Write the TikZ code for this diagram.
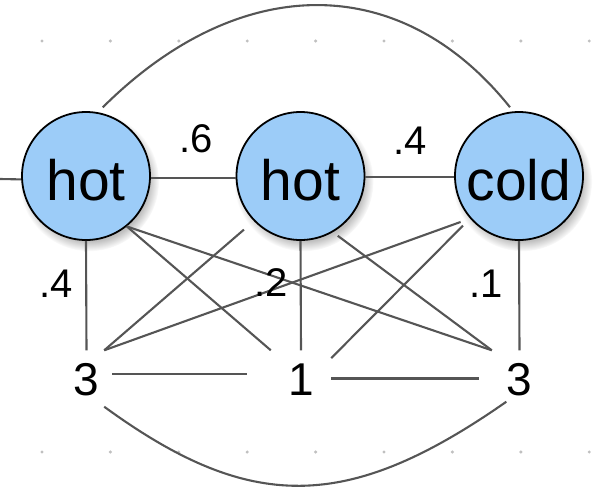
\documentclass[tikz,border=0pt]{standalone}
\usepackage{fontspec}
\setmainfont{Liberation Sans}
\usetikzlibrary{shadows,fadings}
\definecolor{statefill}{RGB}{156,204,248}
\definecolor{linkgray}{RGB}{85,85,85}
\definecolor{dotgray}{RGB}{192,192,192}
\begin{document}
\begin{tikzpicture}[x=1pt,y=-1pt,
  state/.style={circle, draw=black, line width=1.8pt, fill=statefill,
    minimum size=128pt, inner sep=0pt,
    font=\fontsize{57}{60}\selectfont, text height=48pt, text depth=0pt,
    circular drop shadow={shadow xshift=3pt, shadow yshift=-5pt,
      shadow scale=1.09, opacity=0.5}},
  obs/.style={rectangle, inner sep=0pt, minimum height=56pt,
    font=\fontsize{46}{50}\selectfont, text height=33pt, text depth=0pt},
  prob/.style={inner sep=0pt, font=\fontsize{40}{44}\selectfont},
  link/.style={draw=linkgray, line width=2.1pt},
  gdot/.style={fill=dotgray, draw=none}]

\useasboundingbox (0,0) rectangle (596,487);

% background grid dots
\foreach \i in {0,...,8} {
  \fill[gdot] ({42+68.4*\i},41) circle[radius=1.7pt];
  \fill[gdot] ({42+68.4*\i},452) circle[radius=1.7pt];
}

% hidden states
\node[state] (h1) at (86,176) {hot};
\node[state] (h2) at (300.5,176) {hot};
\node[state] (c)  at (519,176) {cold};

% observations
\node[obs, minimum width=35pt] (n1) at (86.5,378.5) {3};
\node[obs, minimum width=60pt] (n2) at (301,378.5) {1};
\node[obs, minimum width=55pt] (n3) at (519.5,378.5) {3};

% incoming edge
\coordinate (entry) at (0,179);
\draw[link] (entry) -- (h1.183);

% chain edges
\draw[link] (h1.-2) -- (h2.182);
\draw[link] (h2.-1) -- (c.181);
\draw[link] ([yshift=6pt]h1.75) .. controls (240,-29) and (401,-29) .. ([yshift=4.5pt]c.98);

% emission edges
\draw[link] (h1.south) -- (n1.north);
\draw[link] (h2.south) -- (n2.north);
\draw[link] (c.south) -- (n3.north);
\draw[link] (h1.-51) -- (n2.north west);
\draw[link] (h1.-51) -- (n3.north west);
\draw[link, shorten <=13pt] (h2.224) -- (n1.north east);
\draw[link, shorten <=6pt] (h2.-60) -- (n3.north west);
\draw[link, shorten <=10pt] (c.221) -- (n1.north east);
\draw[link, shorten <=10pt] (c.221) -- (n2.34);

% observation edges
\draw[link, shorten <=8pt, shorten >=24pt] ([yshift=4.5pt]n1.east) -- ([yshift=4.5pt]n2.west);
\draw[link, shorten >=13pt] (n2.east) -- (n3.west);
\draw[link] (n1.south east) .. controls (250,513) and (347,513) .. ([yshift=5pt]n3.-115);

% probabilities
\node[prob] (p1) at (196,139) {.6};
\node[prob] (p2) at (410,141) {.4};
\node[prob] (p3) at (56,284) {.4};
\node[prob] (p4) at (271,283) {.2};
\node[prob] (p5) at (486,284) {.1};
\end{tikzpicture}
\end{document}
